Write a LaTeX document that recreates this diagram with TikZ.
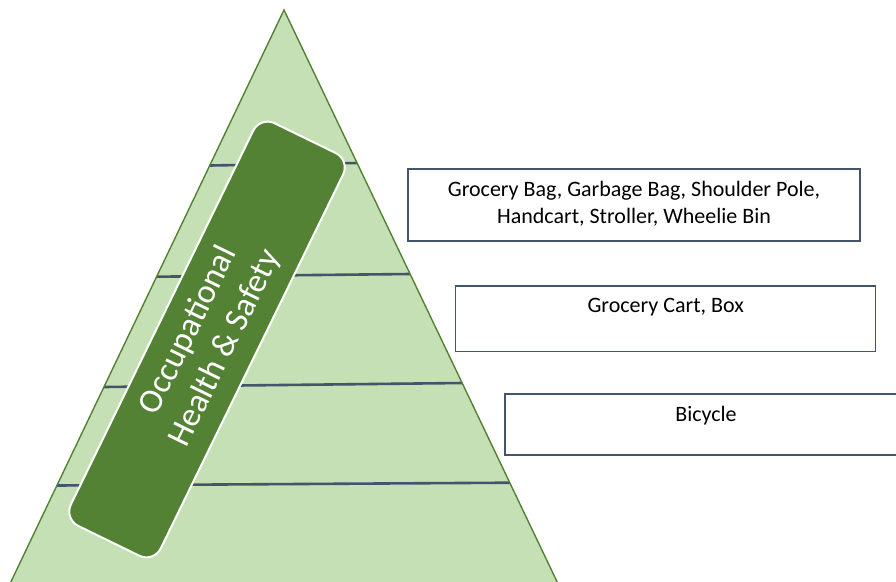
\documentclass[tikz,border=0pt]{standalone}
\usepackage{fontspec}
\setmainfont{Carlito}
\usetikzlibrary{positioning}
\definecolor{pyrfill}{HTML}{C5E0B4}
\definecolor{pyrline}{HTML}{548235}
\definecolor{tierline}{HTML}{44546A}
\definecolor{bandfill}{HTML}{548235}
\definecolor{boxline}{HTML}{44546A}

\begin{document}
\begin{tikzpicture}[
  x=1pt,y=-1pt,
  tier/.style={draw=tierline,line width=2.6pt},
  band/.style={draw=white,line width=2pt,fill=bandfill,rounded corners=16pt,
               minimum width=448pt,minimum height=100pt,text=white,
               align=center,font=\fontsize{34}{41}\selectfont,rotate=64},
  item/.style={draw=boxline,line width=1.3pt,fill=white},
  lab/.style={inner sep=0pt,align=center,font=\fontsize{22}{26.8}\selectfont}
]
\useasboundingbox (0,0) rectangle (896,581);
\clip (0,0) rectangle (896,581);

% pyramid
\coordinate (apex) at (284,10);
\coordinate (bl) at (-14.5,635);
\coordinate (br) at (582.5,635);
\fill[pyrfill] (apex) -- (bl) -- (br) -- cycle;
\foreach \xa/\ya/\xb/\yb in {209.7/165.5/357.1/163, 156.6/276.7/410.1/274,
                             104/387/462.1/383, 56.9/485.5/509.8/482.7}
  \draw[tier] (\xa,\ya) -- (\xb,\yb);
\draw[pyrline,line width=1.4pt] (bl) -- (apex) -- (br);

% slanted band
\node[band] (ohs) at (207,339.5) {Occupational\\Health \& Safety};

% item boxes
\node[item,minimum width=452pt,minimum height=72pt] (b1) at (634,205) {};
\node[item,minimum width=420pt,minimum height=65.7pt] (b2) at (665.7,318.85) {};
\node[item,minimum width=402pt,minimum height=61pt] (b3) at (706,424.5) {};

\node[lab,below=13pt of b1.north] (t1)
  {Grocery Bag, Garbage Bag, Shoulder Pole,\\Handcart, Stroller, Wheelie Bin};
\node[lab,below=13pt of b2.north] (t2) {Grocery Cart, Box};
\node[lab,below=13pt of b3.north] (t3) {Bicycle};

\end{tikzpicture}
\end{document}
